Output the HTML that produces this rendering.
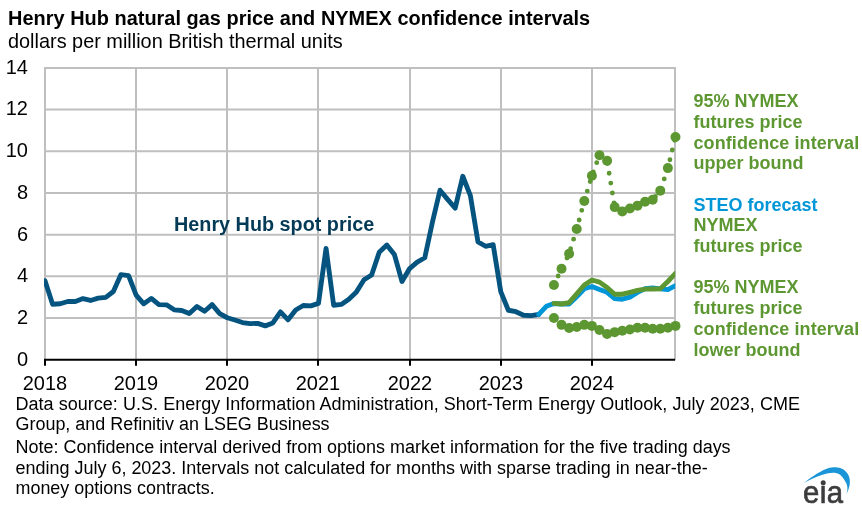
<!DOCTYPE html>
<html><head><meta charset="utf-8"><title>Henry Hub natural gas price and NYMEX confidence intervals</title>
<style>
html,body{margin:0;padding:0;background:#fff;}
body{width:862px;height:514px;position:relative;overflow:hidden;font-family:"Liberation Sans",sans-serif;}
#w{position:absolute;left:0;top:0;width:862px;height:514px;will-change:transform;}
</style></head><body><div id="w">
<svg width="862" height="514" viewBox="0 0 862 514" style="position:absolute;left:0;top:0">
<defs><clipPath id="pc"><rect x="44" y="60" width="631.2" height="305"/></clipPath></defs>
<line x1="44" x2="676" y1="318.02" y2="318.02" stroke="#BFBFBF" stroke-width="2.0"/>
<line x1="44" x2="676" y1="276.34" y2="276.34" stroke="#BFBFBF" stroke-width="2.0"/>
<line x1="44" x2="676" y1="234.66" y2="234.66" stroke="#BFBFBF" stroke-width="2.0"/>
<line x1="44" x2="676" y1="192.98" y2="192.98" stroke="#BFBFBF" stroke-width="2.0"/>
<line x1="44" x2="676" y1="151.30" y2="151.30" stroke="#BFBFBF" stroke-width="2.0"/>
<line x1="44" x2="676" y1="109.62" y2="109.62" stroke="#BFBFBF" stroke-width="2.0"/>
<line x1="44" x2="676" y1="67.94" y2="67.94" stroke="#BFBFBF" stroke-width="2.0"/>
<line x1="45" x2="45" y1="66.94" y2="359.85" stroke="#BFBFBF" stroke-width="2.0"/>
<line x1="136" x2="136" y1="66.94" y2="359.85" stroke="#BFBFBF" stroke-width="2.0"/>
<line x1="227" x2="227" y1="66.94" y2="359.85" stroke="#BFBFBF" stroke-width="2.0"/>
<line x1="318" x2="318" y1="66.94" y2="359.85" stroke="#BFBFBF" stroke-width="2.0"/>
<line x1="410" x2="410" y1="66.94" y2="359.85" stroke="#BFBFBF" stroke-width="2.0"/>
<line x1="501" x2="501" y1="66.94" y2="359.85" stroke="#BFBFBF" stroke-width="2.0"/>
<line x1="592" x2="592" y1="66.94" y2="359.85" stroke="#BFBFBF" stroke-width="2.0"/>
<line x1="675" x2="675" y1="66.94" y2="359.85" stroke="#BFBFBF" stroke-width="2.0"/>
<line x1="44" x2="675.1" y1="359.85" y2="359.85" stroke="#000" stroke-width="2"/>
<line x1="45" x2="45" y1="359.85" y2="365.8" stroke="#000" stroke-width="2"/>
<line x1="136" x2="136" y1="359.85" y2="365.8" stroke="#000" stroke-width="2"/>
<line x1="227" x2="227" y1="359.85" y2="365.8" stroke="#000" stroke-width="2"/>
<line x1="318" x2="318" y1="359.85" y2="365.8" stroke="#000" stroke-width="2"/>
<line x1="410" x2="410" y1="359.85" y2="365.8" stroke="#000" stroke-width="2"/>
<line x1="501" x2="501" y1="359.85" y2="365.8" stroke="#000" stroke-width="2"/>
<line x1="592" x2="592" y1="359.85" y2="365.8" stroke="#000" stroke-width="2"/>
<g clip-path="url(#pc)" fill="none" stroke-linejoin="round" stroke-linecap="round">
<path d="M45.00,280.66 L52.60,304.21 L60.19,303.79 L67.79,301.50 L75.38,301.50 L82.98,298.58 L90.58,300.46 L98.17,298.16 L105.77,297.33 L113.36,291.49 L120.96,274.61 L128.56,275.66 L136.15,295.04 L143.75,303.79 L151.34,298.37 L158.94,304.62 L166.54,304.83 L174.13,309.83 L181.73,310.46 L189.32,313.59 L196.92,306.50 L204.52,311.29 L212.11,304.62 L219.71,313.59 L227.30,317.75 L234.90,320.05 L242.50,322.55 L250.09,323.59 L257.69,323.38 L265.28,325.88 L272.88,322.96 L280.48,311.92 L288.07,319.84 L295.67,310.04 L303.26,305.46 L310.86,305.87 L318.46,303.37 L326.05,248.36 L333.65,305.25 L341.24,304.42 L348.84,299.21 L356.44,291.91 L364.03,279.82 L371.63,275.03 L379.22,252.32 L386.82,245.02 L394.42,254.61 L402.01,281.49 L409.61,268.57 L417.20,262.11 L424.80,257.73 L432.40,222.31 L439.99,190.21 L447.59,199.38 L455.18,208.13 L462.78,176.25 L470.38,195.63 L477.97,241.90 L485.57,246.27 L493.16,244.60 L500.76,291.70 L508.36,310.25 L515.95,311.71 L523.55,315.25 L531.14,315.67 L538.74,314.42" stroke="#055480" stroke-width="4.85"/>
<path d="M538.74,314.42 L546.34,306.29 L553.93,303.58 L561.53,304.00 L569.12,304.00 L576.72,296.70 L584.32,288.79 L591.91,286.49 L599.51,289.41 L607.10,292.33 L614.70,298.58 L622.30,299.21 L629.89,297.12 L637.49,292.33 L645.08,288.58 L652.68,287.95 L660.28,288.79 L667.87,289.62 L675.47,285.66" stroke="#0096D7" stroke-width="4.85"/>
<path d="M553.93,303.37 L561.53,304.00 L569.12,302.54 L576.72,293.79 L584.32,285.03 L591.91,280.03 L599.51,282.12 L607.10,287.54 L614.70,294.20 L622.30,294.20 L629.89,292.33 L637.49,290.45 L645.08,289.20 L652.68,288.99 L660.28,288.79 L667.87,281.49 L675.47,273.36" stroke="#5D9732" stroke-width="4.85"/>
</g>
<g fill="none" stroke="#5D9732" stroke-width="4.85" stroke-linecap="round" stroke-dasharray="0 10">
<path d="M553.93,285.03 L561.53,268.78 L569.12,253.77 L576.72,228.97 L584.32,201.05 L591.91,175.83 L599.51,155.20 L607.10,160.83 L614.70,207.09 L622.30,211.47 L629.89,208.55 L637.49,205.63 L645.08,201.67 L652.68,199.80 L660.28,190.63 L667.87,168.12 L675.47,137.07"/>
<path d="M553.93,317.96 L561.53,324.84 L569.12,327.96 L576.72,326.92 L584.32,324.84 L591.91,325.88 L599.51,330.05 L607.10,334.01 L614.70,332.13 L622.30,330.67 L629.89,329.42 L637.49,327.76 L645.08,327.76 L652.68,328.80 L660.28,328.80 L667.87,327.76 L675.47,325.88"/>
</g>
<g fill="#5D9732"><circle cx="553.93" cy="285.03" r="5"/><circle cx="561.53" cy="268.78" r="5"/><circle cx="569.12" cy="253.77" r="5"/><circle cx="576.72" cy="228.97" r="5"/><circle cx="584.32" cy="201.05" r="5"/><circle cx="591.91" cy="175.83" r="5"/><circle cx="599.51" cy="155.20" r="5"/><circle cx="607.10" cy="160.83" r="5"/><circle cx="614.70" cy="207.09" r="5"/><circle cx="622.30" cy="211.47" r="5"/><circle cx="629.89" cy="208.55" r="5"/><circle cx="637.49" cy="205.63" r="5"/><circle cx="645.08" cy="201.67" r="5"/><circle cx="652.68" cy="199.80" r="5"/><circle cx="660.28" cy="190.63" r="5"/><circle cx="667.87" cy="168.12" r="5"/><circle cx="675.47" cy="137.07" r="5"/><circle cx="553.93" cy="317.96" r="5"/><circle cx="561.53" cy="324.84" r="5"/><circle cx="569.12" cy="327.96" r="5"/><circle cx="576.72" cy="326.92" r="5"/><circle cx="584.32" cy="324.84" r="5"/><circle cx="591.91" cy="325.88" r="5"/><circle cx="599.51" cy="330.05" r="5"/><circle cx="607.10" cy="334.01" r="5"/><circle cx="614.70" cy="332.13" r="5"/><circle cx="622.30" cy="330.67" r="5"/><circle cx="629.89" cy="329.42" r="5"/><circle cx="637.49" cy="327.76" r="5"/><circle cx="645.08" cy="327.76" r="5"/><circle cx="652.68" cy="328.80" r="5"/><circle cx="660.28" cy="328.80" r="5"/><circle cx="667.87" cy="327.76" r="5"/><circle cx="675.47" cy="325.88" r="5"/></g>
<path d="M803.8,482.9 C810,478 818,472.2 826,468.9 C830,467.5 833,467.2 835.5,467.2 C842,467.2 847,471 849,476.5 C850.6,481 850.2,487 846.6,493.8 C848.2,489 847.6,484.5 844.7,480.5 C842.5,477 840.5,474 836,473.1 C830,472 822,474 803.8,482.9 Z" fill="#1A96D8"/><circle cx="823.2" cy="482.7" r="2.5" fill="#3B3B3D"/>
</svg>
<div style="position:absolute;top:6px;font-size:20.9px;line-height:23px;height:23px;font-weight:bold;color:#000;white-space:pre;word-spacing:0.13px;transform:scaleX(0.9536);transform-origin:0 0;left:8.40px;">Henry Hub natural gas price and NYMEX confidence intervals</div>
<div style="position:absolute;top:29px;font-size:20.9px;line-height:23px;height:23px;font-weight:normal;color:#000;white-space:pre;transform:scaleX(0.9517);transform-origin:0 0;left:8.00px;">dollars per million British thermal units</div>
<div style="position:absolute;top:347px;font-size:20.9px;line-height:23px;height:23px;font-weight:normal;color:#000;white-space:pre;transform:scaleX(0.9569);transform-origin:100% 0;left:-272.40px;width:300px;text-align:right;">0</div>
<div style="position:absolute;top:305px;font-size:20.9px;line-height:23px;height:23px;font-weight:normal;color:#000;white-space:pre;transform:scaleX(0.9569);transform-origin:100% 0;left:-272.40px;width:300px;text-align:right;">2</div>
<div style="position:absolute;top:263px;font-size:20.9px;line-height:23px;height:23px;font-weight:normal;color:#000;white-space:pre;transform:scaleX(0.9569);transform-origin:100% 0;left:-272.40px;width:300px;text-align:right;">4</div>
<div style="position:absolute;top:222px;font-size:20.9px;line-height:23px;height:23px;font-weight:normal;color:#000;white-space:pre;transform:scaleX(0.9569);transform-origin:100% 0;left:-272.40px;width:300px;text-align:right;">6</div>
<div style="position:absolute;top:180px;font-size:20.9px;line-height:23px;height:23px;font-weight:normal;color:#000;white-space:pre;transform:scaleX(0.9569);transform-origin:100% 0;left:-272.40px;width:300px;text-align:right;">8</div>
<div style="position:absolute;top:138px;font-size:20.9px;line-height:23px;height:23px;font-weight:normal;color:#000;white-space:pre;transform:scaleX(0.9569);transform-origin:100% 0;left:-272.40px;width:300px;text-align:right;">10</div>
<div style="position:absolute;top:96px;font-size:20.9px;line-height:23px;height:23px;font-weight:normal;color:#000;white-space:pre;transform:scaleX(0.9569);transform-origin:100% 0;left:-272.40px;width:300px;text-align:right;">12</div>
<div style="position:absolute;top:55px;font-size:20.9px;line-height:23px;height:23px;font-weight:normal;color:#000;white-space:pre;transform:scaleX(0.9569);transform-origin:100% 0;left:-272.40px;width:300px;text-align:right;">14</div>
<div style="position:absolute;top:371px;font-size:20.9px;line-height:23px;height:23px;font-weight:normal;color:#000;white-space:pre;transform:scaleX(0.9569);transform-origin:50% 0;left:-104.80px;width:300px;text-align:center;">2018</div>
<div style="position:absolute;top:371px;font-size:20.9px;line-height:23px;height:23px;font-weight:normal;color:#000;white-space:pre;transform:scaleX(0.9569);transform-origin:50% 0;left:-13.80px;width:300px;text-align:center;">2019</div>
<div style="position:absolute;top:371px;font-size:20.9px;line-height:23px;height:23px;font-weight:normal;color:#000;white-space:pre;transform:scaleX(0.9569);transform-origin:50% 0;left:77.20px;width:300px;text-align:center;">2020</div>
<div style="position:absolute;top:371px;font-size:20.9px;line-height:23px;height:23px;font-weight:normal;color:#000;white-space:pre;transform:scaleX(0.9569);transform-origin:50% 0;left:168.20px;width:300px;text-align:center;">2021</div>
<div style="position:absolute;top:371px;font-size:20.9px;line-height:23px;height:23px;font-weight:normal;color:#000;white-space:pre;transform:scaleX(0.9569);transform-origin:50% 0;left:260.20px;width:300px;text-align:center;">2022</div>
<div style="position:absolute;top:371px;font-size:20.9px;line-height:23px;height:23px;font-weight:normal;color:#000;white-space:pre;transform:scaleX(0.9569);transform-origin:50% 0;left:351.20px;width:300px;text-align:center;">2023</div>
<div style="position:absolute;top:371px;font-size:20.9px;line-height:23px;height:23px;font-weight:normal;color:#000;white-space:pre;transform:scaleX(0.9569);transform-origin:50% 0;left:442.20px;width:300px;text-align:center;">2024</div>
<div style="position:absolute;top:394px;font-size:18px;line-height:20px;height:20px;font-weight:normal;color:#000;white-space:pre;word-spacing:0.19px;left:15.50px;">Data source: U.S. Energy Information Administration, Short-Term Energy Outlook, July 2023, CME</div>
<div style="position:absolute;top:414px;font-size:17.95px;line-height:20px;height:20px;font-weight:normal;color:#000;white-space:pre;left:15.50px;">Group, and Refinitiv an LSEG Business</div>
<div style="position:absolute;top:437px;font-size:17.98px;line-height:20px;height:20px;font-weight:normal;color:#000;white-space:pre;left:15.50px;">Note: Confidence interval derived from options market information for the five trading days</div>
<div style="position:absolute;top:458px;font-size:17.98px;line-height:20px;height:20px;font-weight:normal;color:#000;white-space:pre;left:15.50px;">ending July 6, 2023. Intervals not calculated for months with sparse trading in near-the-</div>
<div style="position:absolute;top:478px;font-size:17.93px;line-height:20px;height:20px;font-weight:normal;color:#000;white-space:pre;left:15.50px;">money options contracts.</div>
<div style="position:absolute;top:212px;font-size:20.9px;line-height:23px;height:23px;font-weight:bold;color:#043A56;white-space:pre;transform:scaleX(0.9474);transform-origin:0 0;left:173.50px;">Henry Hub spot price</div>
<div style="position:absolute;top:91px;font-size:18px;line-height:20px;height:20px;font-weight:bold;color:#5D9732;white-space:pre;left:693.50px;">95% NYMEX</div>
<div style="position:absolute;top:112px;font-size:18px;line-height:20px;height:20px;font-weight:bold;color:#5D9732;white-space:pre;left:693.50px;">futures price</div>
<div style="position:absolute;top:133px;font-size:18px;line-height:20px;height:20px;font-weight:bold;color:#5D9732;white-space:pre;letter-spacing:0.09px;left:693.50px;">confidence interval</div>
<div style="position:absolute;top:153px;font-size:18px;line-height:20px;height:20px;font-weight:bold;color:#5D9732;white-space:pre;left:693.50px;">upper bound</div>
<div style="position:absolute;top:195px;font-size:18px;line-height:20px;height:20px;font-weight:bold;color:#0096D7;white-space:pre;left:693.50px;">STEO forecast</div>
<div style="position:absolute;top:215px;font-size:18px;line-height:20px;height:20px;font-weight:bold;color:#5D9732;white-space:pre;left:693.50px;">NYMEX</div>
<div style="position:absolute;top:236px;font-size:18px;line-height:20px;height:20px;font-weight:bold;color:#5D9732;white-space:pre;left:693.50px;">futures price</div>
<div style="position:absolute;top:277px;font-size:18px;line-height:20px;height:20px;font-weight:bold;color:#5D9732;white-space:pre;left:693.50px;">95% NYMEX</div>
<div style="position:absolute;top:298px;font-size:18px;line-height:20px;height:20px;font-weight:bold;color:#5D9732;white-space:pre;left:693.50px;">futures price</div>
<div style="position:absolute;top:319px;font-size:18px;line-height:20px;height:20px;font-weight:bold;color:#5D9732;white-space:pre;letter-spacing:0.09px;left:693.50px;">confidence interval</div>
<div style="position:absolute;top:340px;font-size:18px;line-height:20px;height:20px;font-weight:bold;color:#5D9732;white-space:pre;left:693.50px;">lower bound</div>
<div style="position:absolute;top:474px;font-size:31.5px;line-height:36px;height:36px;font-weight:normal;color:#3B3B3D;white-space:pre;letter-spacing:-0.35px;-webkit-text-stroke:0.7px #3B3B3D;transform:scaleX(0.93);transform-origin:0 0;left:803.20px;">e&#305;a</div>
</div></body></html>
